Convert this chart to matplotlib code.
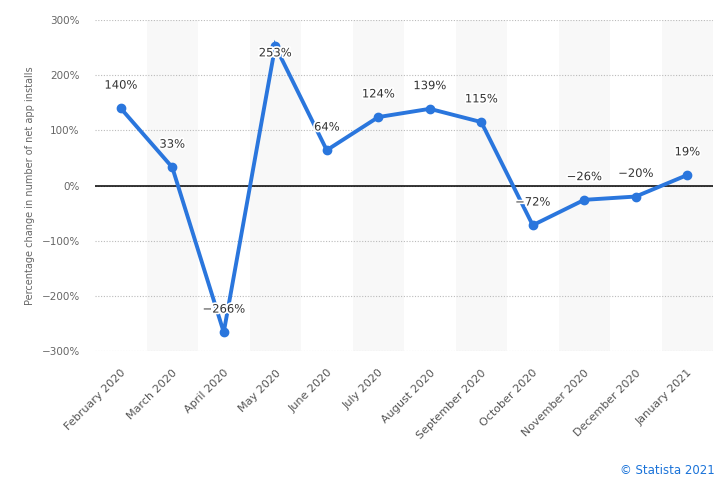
import matplotlib
matplotlib.use("Agg")
import matplotlib.pyplot as plt
import matplotlib.patheffects as pe
from matplotlib.ticker import FuncFormatter

months = ["February 2020", "March 2020", "April 2020", "May 2020", "June 2020",
          "July 2020", "August 2020", "September 2020", "October 2020",
          "November 2020", "December 2020", "January 2021"]
change = [140, 33, -266, 253, 64, 124, 139, 115, -72, -26, -20, 19]
y_ticks = [-300, -200, -100, 0, 100, 200, 300]

W, H = 717, 488
fig = plt.figure(figsize=(W / 100, H / 100), dpi=100)
ax = fig.add_axes([95 / W, 1 - 351 / H, (713 - 95) / W, (351 - 20) / H])

x = list(range(len(months)))

# bandes alternees
for i in x:
    if i % 2 == 1:
        ax.axvspan(i - 0.5, i + 0.5, color="#f8f8f8", zorder=0, lw=0)

ax.set_xlim(-0.5, len(months) - 0.5)
ax.set_ylim(-300, 300)
ax.set_yticks(y_ticks)
ax.yaxis.set_major_formatter(FuncFormatter(lambda v, p: f"{v:.0f}%".replace("-", "\u2212")))
ax.grid(axis="y", color="#bbbbbb", linestyle=(0, (1, 1.5)), linewidth=0.8, zorder=1)
ax.axhline(0, color="black", linewidth=1.1, zorder=2)

ax.plot(x, change, color="#2a76dd", linewidth=2.8, marker="o", markersize=6,
        solid_joinstyle="miter", zorder=3)

for i, v in zip(x, change):
    off = -5 if v == max(change) else 12
    va = "center" if v == max(change) else "bottom"
    ax.annotate(f"{v}%".replace("-", "\u2212"), (i, v), xytext=(0, off),
                textcoords="offset points", ha="center", va=va,
                fontsize=8.3, color="#333333", zorder=4,
                path_effects=[pe.withStroke(linewidth=2.5, foreground="white")])

ax.set_xticks(x)
ax.set_xticklabels(months, rotation=45, ha="right", rotation_mode="anchor",
                   fontsize=8, color="#555555")
ax.tick_params(axis="x", length=0, pad=12)
ax.tick_params(axis="y", length=0, pad=11, labelsize=7.5, labelcolor="#666666")
for s in ax.spines.values():
    s.set_visible(False)

ax.set_ylabel("Percentage change in number of net app installs", fontsize=7,
              color="#666666")
ax.yaxis.set_label_coords((35 - 95) / 618, 0.5)

fig.text(715 / W, 1 - 470 / H, "\u00a9 Statista 2021", fontsize=8.5,
         color="#1a73d9", ha="right", va="center")

fig.savefig("out.png", dpi=100)
